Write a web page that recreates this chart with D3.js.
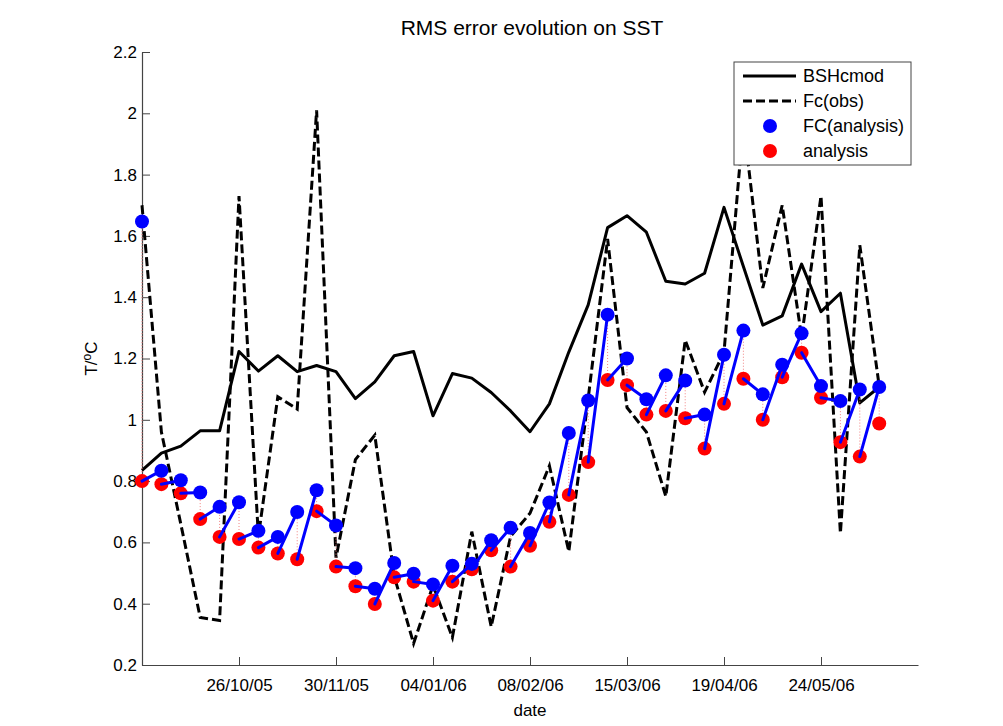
<!DOCTYPE html>
<html>
<head>
<meta charset="utf-8">
<script src="https://cdn.jsdelivr.net/npm/d3@7"></script>
<style>
  body { margin: 0; background: #fff; }
  text { font-family: "Liberation Sans", Arial, sans-serif; }
</style>
</head>
<body>
<div id="chart"></div>
<script>
// weekly dates, starting 21/09/05
const startDate = new Date(2005, 8, 21);
const nWeeks = 39;
const dates = d3.range(nWeeks).map(i => d3.timeDay.offset(startDate, 7 * i));

// BSHcmod (solid black)
const bshcmod = [0.835, 0.891, 0.914, 0.964, 0.964, 1.223, 1.159, 1.209, 1.157, 1.177,
  1.157, 1.069, 1.124, 1.209, 1.223, 1.013, 1.151, 1.136, 1.089, 1.029,
  0.961, 1.052, 1.221, 1.375, 1.627, 1.666, 1.612, 1.452, 1.443, 1.478,
  1.693, 1.50, 1.309, 1.339, 1.508, 1.353, 1.413, 1.055, 1.107];

// Fc(obs) (dashed black)
const fcObs = [1.70, 0.96, 0.66, 0.355, 0.345, 1.73, 0.62, 1.075, 1.035, 2.01,
  0.55, 0.87, 0.95, 0.49, 0.27, 0.46, 0.29, 0.635, 0.325, 0.62,
  0.695, 0.85, 0.57, 1.07, 1.59, 1.04, 0.96, 0.75, 1.26, 1.09,
  1.22, 1.97, 1.43, 1.70, 1.27, 1.73, 0.63, 1.57, 1.11];

// FC(analysis) (blue dots)
const fcAnalysis = [1.647, 0.834, 0.803, 0.763, 0.716, 0.731, 0.638, 0.618, 0.699, 0.770,
  0.655, 0.516, 0.449, 0.533, 0.498, 0.463, 0.524, 0.530, 0.607, 0.648,
  0.631, 0.730, 0.957, 1.063, 1.343, 1.200, 1.067, 1.145, 1.128, 1.017,
  1.212, 1.291, 1.083, 1.180, 1.282, 1.110, 1.061, 1.099, 1.107];

// analysis (red dots)
const analysis = [0.800, 0.790, 0.760, 0.676, 0.618, 0.611, 0.583, 0.564, 0.545, 0.702,
  0.521, 0.457, 0.399, 0.486, 0.472, 0.410, 0.472, 0.512, 0.574, 0.521,
  0.589, 0.667, 0.755, 0.862, 1.130, 1.113, 1.017, 1.029, 1.005, 0.906,
  1.052, 1.134, 1.000, 1.139, 1.219, 1.072, 0.927, 0.880, 0.988];

const xTickDates = ["26/10/05", "30/11/05", "04/01/06", "08/02/06", "15/03/06", "19/04/06", "24/05/06"];
const yTicks = [0.2, 0.4, 0.6, 0.8, 1, 1.2, 1.4, 1.6, 1.8, 2, 2.2];
const legendLabels = ["BSHcmod", "Fc(obs)", "FC(analysis)", "analysis"];

const parseDate = d3.timeParse("%d/%m/%y");
const fmtDate = d3.timeFormat("%d/%m/%y");

const width = 1003, height = 726;
const margin = { top: 52, right: 85, bottom: 61, left: 142 };
const innerW = width - margin.left - margin.right;
const innerH = height - margin.top - margin.bottom;

const svg = d3.select("#chart").append("svg")
  .attr("width", width)
  .attr("height", height);

const scaleX = d3.scaleTime()
  .domain([startDate, d3.timeDay.offset(startDate, 280)])
  .range([0, innerW]);
const scaleY = d3.scaleLinear()
  .domain([0.2, 2.2])
  .range([innerH, 0]);

const g = svg.append("g").attr("transform", `translate(${margin.left},${margin.top})`);

// axes
const axisColor = "#444";
const gx = g.append("g").attr("transform", `translate(0,${innerH})`)
  .call(d3.axisBottom(scaleX)
    .tickValues(xTickDates.map(parseDate))
    .tickFormat(fmtDate)
    .tickSizeInner(-8).tickSizeOuter(0).tickPadding(14));
const gy = g.append("g")
  .call(d3.axisLeft(scaleY)
    .tickValues(yTicks)
    .tickFormat(d => String(+d.toFixed(1)))
    .tickSizeInner(-8).tickSizeOuter(0).tickPadding(5));
[gx, gy].forEach(a => {
  a.selectAll(".domain").attr("stroke", axisColor).attr("stroke-width", 1.2);
  a.selectAll(".tick line").attr("stroke", axisColor);
  a.selectAll(".tick text").attr("fill", "#000").style("font-size", "17px")
    .style("font-family", "'Liberation Sans', Arial, sans-serif");
});

// lines
const line = vals => d3.line()
  .x((d, i) => scaleX(dates[i]))
  .y(d => scaleY(d))(vals);

g.append("path").attr("d", line(bshcmod))
  .attr("fill", "none").attr("stroke", "#000").attr("stroke-width", 3)
  .attr("stroke-linejoin", "round");
g.append("path").attr("d", line(fcObs))
  .attr("fill", "none").attr("stroke", "#000").attr("stroke-width", 3)
  .attr("stroke-dasharray", "9,4");

// dotted link between analysis and FC(analysis) at same date
g.append("g").selectAll("line")
  .data(dates)
  .join("line")
  .attr("x1", d => scaleX(d)).attr("x2", d => scaleX(d))
  .attr("y1", (d, i) => scaleY(analysis[i]))
  .attr("y2", (d, i) => scaleY(fcAnalysis[i]))
  .attr("stroke", "#f08080").attr("stroke-width", 1).attr("stroke-dasharray", "1,2");

const r = 7;
g.append("g").selectAll("circle")
  .data(analysis)
  .join("circle")
  .attr("cx", (d, i) => scaleX(dates[i]))
  .attr("cy", d => scaleY(d))
  .attr("r", r).attr("fill", "#ff0000");
g.append("g").selectAll("circle")
  .data(fcAnalysis)
  .join("circle")
  .attr("cx", (d, i) => scaleX(dates[i]))
  .attr("cy", d => scaleY(d))
  .attr("r", r).attr("fill", "#0000ff");

// forecast segments: analysis(t) -> FC(analysis)(t+1)
g.append("g").selectAll("line")
  .data(d3.range(nWeeks - 1))
  .join("line")
  .attr("x1", i => scaleX(dates[i])).attr("y1", i => scaleY(analysis[i]))
  .attr("x2", i => scaleX(dates[i + 1])).attr("y2", i => scaleY(fcAnalysis[i + 1]))
  .attr("stroke", "#0000ff").attr("stroke-width", 3).attr("stroke-linecap", "round");

// title and labels
svg.append("text").attr("x", margin.left + innerW / 2 + 2).attr("y", 35)
  .attr("text-anchor", "middle").style("font-size", "21px").attr("fill", "#000")
  .text("RMS error evolution on SST");
svg.append("text").attr("x", margin.left + innerW / 2).attr("y", 716)
  .attr("text-anchor", "middle").style("font-size", "17px").attr("fill", "#000")
  .text("date");
const yl = svg.append("text")
  .attr("transform", `translate(97,${margin.top + innerH / 2}) rotate(-90)`)
  .attr("text-anchor", "middle").style("font-size", "17px").attr("fill", "#000");
yl.append("tspan").text("T/");
yl.append("tspan").attr("dy", -6).style("font-size", "12px").text("o");
yl.append("tspan").attr("dy", 6).text("C");

// legend
const lg = svg.append("g").attr("transform", "translate(734,62)");
lg.append("rect").attr("width", 177).attr("height", 103)
  .attr("fill", "#fff").attr("stroke", axisColor).attr("stroke-width", 1);
const rowY = [14, 39, 64, 89];
legendLabels.forEach((label, k) => {
  const row = lg.append("g").attr("transform", `translate(0,${rowY[k]})`);
  if (k < 2) {
    row.append("line").attr("x1", 9).attr("x2", 62)
      .attr("stroke", "#000").attr("stroke-width", 3)
      .attr("stroke-dasharray", k === 1 ? "9,4" : null);
  } else {
    row.append("circle").attr("cx", 36).attr("r", r)
      .attr("fill", k === 2 ? "#0000ff" : "#ff0000");
  }
  row.append("text").attr("x", 69).attr("dy", "0.35em")
    .style("font-size", "18px").attr("fill", "#000").text(label);
});
</script>
</body>
</html>
